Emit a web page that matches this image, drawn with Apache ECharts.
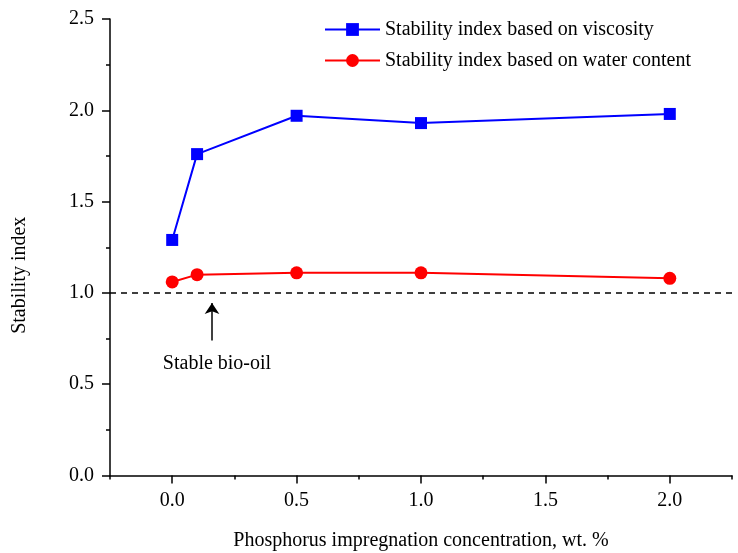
<!DOCTYPE html>
<html>
<head>
<meta charset="utf-8">
<script src="https://cdn.jsdelivr.net/npm/echarts@6/dist/echarts.min.js"></script>
<style>html,body{margin:0;padding:0;background:#fff;}#c{width:738px;height:553px;}</style>
</head>
<body>
<div id="c"></div>
<script>
// Data
const xValues = [0, 0.1, 0.5, 1.0, 2.0];
const viscosityIndex = [1.29, 1.76, 1.97, 1.93, 1.98];
const waterIndex = [1.06, 1.10, 1.11, 1.11, 1.08];
const seriesNames = ['Stability index based on viscosity', 'Stability index based on water content'];
const xMajorTicks = [0, 0.5, 1.0, 1.5, 2.0];
const xMinorTicks = [-0.25, 0.25, 0.75, 1.25, 1.75, 2.25];
const stableLevel = 1.0;
const arrowFrom = [0.16, 0.74];
const arrowTo = [0.16, 0.945];
const noteAt = [0.18, 0.61];
const noteText = 'Stable bio-oil';

const FONT = 'Liberation Serif';
const chart = echarts.init(document.getElementById('c'));
const pair = (xs, ys) => xs.map((x, i) => [x, ys[i]]);

chart.setOption({
  animation: false,
  backgroundColor: '#fff',
  textStyle: { fontFamily: FONT, color: '#000' },
  grid: { left: 110, right: 6, top: 19, bottom: 77.5, containLabel: false, outerBoundsMode: 'none' },
  legend: {
    left: 319, top: 14.5, orient: 'vertical',
    itemWidth: 55, itemHeight: 16, itemGap: 11,
    textStyle: { fontFamily: FONT, fontSize: 20, color: '#000' },
    data: seriesNames
  },
  xAxis: [{
    type: 'value', min: -0.25, max: 2.25,
    name: 'Phosphorus impregnation concentration, wt. %',
    nameLocation: 'middle', nameGap: 55,
    nameTextStyle: { fontFamily: FONT, fontSize: 20, color: '#000' },
    axisLine: { show: true, onZero: false, lineStyle: { color: '#000', width: 1.5 } },
    axisTick: { show: true, inside: false, length: 8, customValues: xMajorTicks, lineStyle: { color: '#000', width: 1.5 } },
    axisLabel: { customValues: xMajorTicks, margin: 15, fontFamily: FONT, fontSize: 20, color: '#000', formatter: v => v.toFixed(1) },
    splitLine: { show: false }
  }, {
    type: 'value', min: -0.25, max: 2.25, position: 'bottom',
    axisLine: { show: false, onZero: false },
    axisTick: { show: true, inside: false, length: 4, customValues: xMinorTicks, lineStyle: { color: '#000', width: 1.5 } },
    axisLabel: { show: false },
    splitLine: { show: false }
  }],
  yAxis: {
    type: 'value', min: 0, max: 2.5, interval: 0.5,
    name: 'Stability index', nameLocation: 'middle', nameGap: 80,
    nameTextStyle: { fontFamily: FONT, fontSize: 20, color: '#000', padding: [0, 56, 0, 0] },
    axisLine: { show: true, onZero: false, lineStyle: { color: '#000', width: 1.5 } },
    axisTick: { show: true, inside: false, length: 8, lineStyle: { color: '#000', width: 1.5 } },
    minorTick: { show: true, splitNumber: 2, length: 4, lineStyle: { color: '#000', width: 1.5 } },
    axisLabel: { margin: 16, fontFamily: FONT, fontSize: 20, color: '#000', formatter: v => v.toFixed(1) },
    splitLine: { show: false }
  },
  series: [{
    name: seriesNames[0], type: 'line', data: pair(xValues, viscosityIndex),
    symbol: 'rect', symbolSize: 12,
    lineStyle: { color: '#0000ff', width: 2 }, itemStyle: { color: '#0000ff' },
    markLine: {
      silent: true, symbol: ['none', 'none'], animation: false,
      label: { show: false },
      lineStyle: { color: '#000', width: 1.5, type: [6, 5] },
      data: [{ yAxis: stableLevel }]
    }
  }, {
    name: seriesNames[1], type: 'line', data: pair(xValues, waterIndex),
    symbol: 'circle', symbolSize: 13,
    lineStyle: { color: '#ff0000', width: 2 }, itemStyle: { color: '#ff0000' },
    markLine: {
      silent: true, symbol: ['none', 'arrow'], symbolSize: 11, animation: false,
      label: { show: false },
      lineStyle: { color: '#000', width: 1.5, type: 'solid' },
      data: [[{ coord: arrowFrom }, { coord: arrowTo }]]
    },
    markPoint: {
      silent: true, symbol: 'circle', symbolSize: 0,
      label: { show: true, position: 'inside', formatter: noteText, fontFamily: FONT, fontSize: 20, color: '#000' },
      data: [{ coord: noteAt }]
    }
  }]
});
</script>
</body>
</html>
